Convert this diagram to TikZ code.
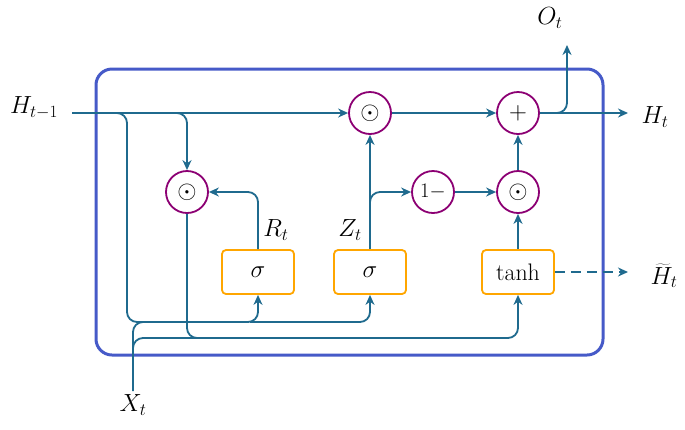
\documentclass[tikz,border=0pt]{standalone}
\usetikzlibrary{arrows.meta}
\begin{document}
\begin{tikzpicture}[x=1bp,y=-1bp,
  ln/.style={draw=tl,line width=1.8bp,rounded corners=10bp},
  ar/.style={ln,-{Stealth[length=10bp,width=9bp]}},
  op/.style={circle,draw=violet!80!purple,line width=1.8bp,minimum size=42bp,inner sep=0pt,font=\fontsize{26}{30}\selectfont},
  gate/.style={draw=orange!70!yellow,line width=1.8bp,rounded corners=4bp,minimum width=72bp,minimum height=44bp,font=\fontsize{24}{28}\selectfont},
  lab/.style={font=\fontsize{26}{30}\selectfont}]
\definecolor{tl}{HTML}{1F6A8E}
\useasboundingbox (0,0) rectangle (685,429);
\draw[draw={rgb,255:red,70;green,90;blue,200},line width=3bp,rounded corners=16bp] (96,69) rectangle (603,355);
\node[op] (m1) at (370,113) {$\odot$};
\node[op] (pl) at (518,113) {$+$};
\node[op] (m0) at (187,192) {$\odot$};
\node[op,font=\fontsize{22}{26}\selectfont] (om) at (433,192) {$1-$};
\node[op] (m2) at (518,192) {$\odot$};
\node[gate] (sr) at (258,272) {$\sigma$};
\node[gate] (sz) at (370,272) {$\sigma$};
\node[gate] (th) at (518,272) {tanh};
\node[lab] (h0) at (34,108) {$H_{t-1}$};
\node[lab] (ht) at (655,117) {$H_t$};
\node[lab] (ot) at (550,18) {$O_t$};
\node[lab,inner sep=1bp] (htt) at (664,276) {$\widetilde{H}_t$};
\node[lab] (xt) at (133,405) {$X_t$};
\node[lab] (rt) at (276,230) {$R_t$};
\node[lab] (zt) at (350,230) {$Z_t$};
\coordinate (hs) at (72,113);
\coordinate (ote) at (567,45);
\coordinate (hte) at (628,113);
\coordinate (hne) at (628,272);
\draw[ar] (hs) -- (m1.west);
\draw[ar] (m1) -- (pl);
\draw[ar] (pl) -- (hte);
\draw[ar] (pl.east) -- (567,113) -- (ote);
\draw[ar] (170,113) -- (187,113) -- (m0.north);
\draw[ar] (sr.north) -- (258,192) -- (m0.east);
\draw[ar] (sz.north) -- (m1.south);
\draw[ar] (370,215) -- (370,192) -- (om.west);
\draw[ar] (om) -- (m2);
\draw[ar] (m2) -- (pl);
\draw[ar] (th) -- (m2);
\draw[ln,dash pattern=on 10bp off 6bp,-{Stealth[length=10bp,width=9bp]}] (th.east) -- (hne);
\draw[ln] (110,113) -- (127,113) -- (127,322) -- (180,322);
\draw[ln] (xt.north) -- (133,322) -- (190,322);
\draw[ln] (133,350) -- (133,338) -- (200,338);
\draw[ar] (150,322) -- (258,322) -- (sr.south);
\draw[ar] (250,322) -- (370,322) -- (sz.south);
\draw[ar] (180,338) -- (518,338) -- (th.south);
\draw[ln] (m0.south) -- (187,338) -- (230,338);
\end{tikzpicture}
\end{document}
